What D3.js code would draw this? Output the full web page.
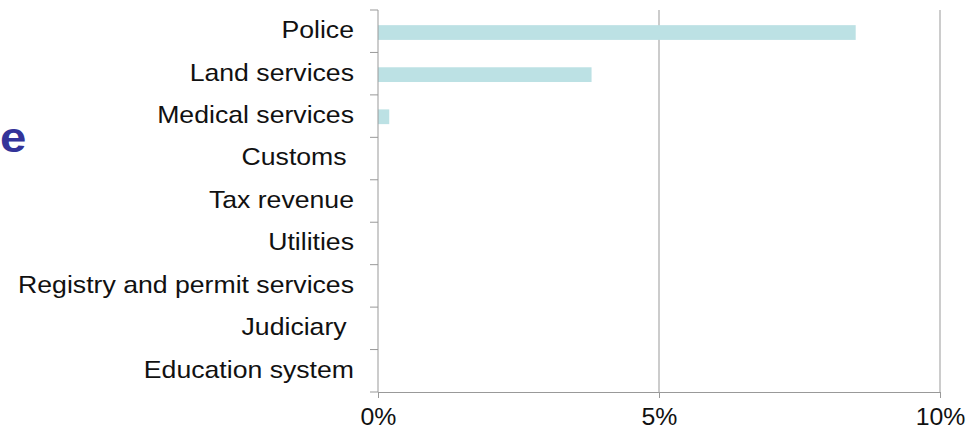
<!DOCTYPE html>
<html>
<head>
<meta charset="utf-8">
<script src="https://cdn.jsdelivr.net/npm/d3@7"></script>
<style>
  body { margin: 0; background: #fff; }
  svg { display: block; font-family: "Liberation Sans", Arial, sans-serif; }
</style>
</head>
<body>
<div id="chart"></div>
<script>
// data
const categories = ["Police", "Land services", "Medical services", "Customs ", "Tax revenue",
  "Utilities", "Registry and permit services", "Judiciary ", "Education system"];
const values = [8.5, 3.8, 0.2, 0, 0, 0, 0, 0, 0];
const xTicks = [0, 5, 10];

const svg_width = 974, svg_height = 434;
const margin = { top: 10, right: 34, bottom: 42, left: 378 };
const width = svg_width - margin.left - margin.right;
const height = svg_height - margin.top - margin.bottom;

const svg = d3.select("#chart").append("svg")
  .attr("width", svg_width)
  .attr("height", svg_height);

// leftover of a cropped title
svg.append("text")
  .attr("transform", "translate(0,152) scale(1.1,1)")
  .attr("font-size", 43).attr("font-weight", "bold")
  .attr("fill", "#333399")
  .text("e");

const g = svg.append("g").attr("transform", `translate(${margin.left},${margin.top})`);

const x = d3.scaleLinear().domain([0, 10]).range([0, width]);
const y = d3.scaleBand().domain(categories).range([0, height]).paddingInner(0.65).paddingOuter(0.36);
const yTicks = d3.scaleBand().domain(categories).range([0, height]);

// gridlines
g.selectAll(".grid").data(xTicks.slice(1)).enter().append("line")
  .attr("x1", d => x(d)).attr("x2", d => x(d))
  .attr("y1", 0).attr("y2", height)
  .attr("stroke", "#999").attr("stroke-width", 1);

// bars
g.selectAll(".bar").data(values).enter().append("rect")
  .attr("x", x(0))
  .attr("y", (d, i) => y(categories[i]))
  .attr("width", d => x(d) - x(0))
  .attr("height", y.bandwidth())
  .attr("fill", "#bce1e4");

// y axis line and ticks at band edges
g.append("line")
  .attr("x1", 0).attr("x2", 0).attr("y1", 0).attr("y2", height)
  .attr("stroke", "#999");
const edges = categories.map(d => yTicks(d)).concat([height]);
g.selectAll(".ytick").data(edges).enter().append("line")
  .attr("x1", -8).attr("x2", 0)
  .attr("y1", d => d).attr("y2", d => d)
  .attr("stroke", "#999");

g.selectAll(".ylab").data(categories).enter().append("text")
  .attr("transform", d => `translate(-24,${yTicks(d) + yTicks.bandwidth() / 2 - 1.5}) scale(1.11,1)`)
  .attr("dy", "0.35em")
  .attr("text-anchor", "end")
  .attr("font-size", 24)
  .attr("fill", "#111")
  .style("white-space", "pre")
  .text(d => d);

// x axis
const xAxis = g.append("g")
  .attr("transform", `translate(0,${height})`)
  .call(d3.axisBottom(x).tickValues(xTicks).tickSize(6).tickSizeOuter(0).tickPadding(0)
    .tickFormat(d => d + "%"));
xAxis.select(".domain").attr("stroke", "#999");
xAxis.selectAll(".tick line").attr("stroke", "#999");
xAxis.selectAll(".tick text")
  .attr("y", 0).attr("dy", 0)
  .attr("transform", "translate(0,33) scale(1.08,1)")
  .attr("font-size", 23)
  .attr("font-family", "Liberation Sans, Arial, sans-serif")
  .attr("fill", "#111");
</script>
</body>
</html>
